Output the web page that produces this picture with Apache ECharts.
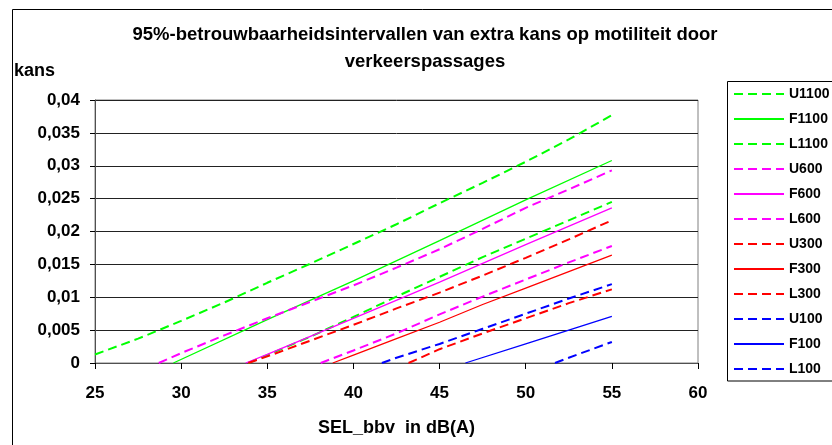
<!DOCTYPE html>
<html>
<head>
<meta charset="utf-8">
<script src="https://cdn.jsdelivr.net/npm/echarts/dist/echarts.min.js"></script>
<style>
  html, body { margin: 0; padding: 0; background: #fff; }
  #chart { width: 832px; height: 445px; }
</style>
</head>
<body>
<div id="chart"></div>
<script>
// 95% confidence intervals: U = upper bound, F = fitted, L = lower bound,
// per number of passages (1100, 600, 300, 100). Pairs are [SEL_bbv dB(A), kans].
const U1100 = [[25,0.0013],[27.5,0.0037],[30,0.0064],[32.5,0.0092],[35,0.0122],[37.5,0.0151],[40,0.0181],[42.5,0.0211],[45,0.0243],[47.5,0.0274],[50,0.0306],[52.5,0.0340],[55,0.0377]];
const F1100 = [[29.55,0],[35,0.0066],[40,0.0125],[45,0.0186],[50,0.0248],[55,0.0308]];
const L1100 = [[33.9,0],[35,0.0012],[37.5,0.0040],[40,0.0070],[42.5,0.0101],[45,0.0131],[47.5,0.0161],[50,0.0189],[52.5,0.0217],[55,0.0245]];
const U600  = [[28.7,0],[30,0.0015],[32.5,0.0042],[35,0.0068],[37.5,0.0093],[40,0.0118],[42.5,0.0145],[45,0.0173],[47.5,0.0204],[50,0.0236],[52.5,0.0264],[55,0.0293]];
const F600  = [[33.75,0],[35,0.0013],[40,0.0068],[45,0.0123],[50,0.0180],[55,0.0236]];
const L600  = [[38.1,0],[40,0.0019],[42.5,0.0045],[45,0.0074],[47.5,0.0101],[50,0.0127],[52.5,0.0153],[55,0.0178]];
const U300  = [[33.9,0],[35,0.0010],[37.5,0.0034],[40,0.0058],[42.5,0.0083],[45,0.0107],[47.5,0.0133],[50,0.0160],[52.5,0.0188],[55,0.0217]];
const F300  = [[38.8,0],[40,0.0012],[42.5,0.0037],[45,0.0062],[47.5,0.0089],[50,0.0114],[52.5,0.0139],[55,0.0164]];
const L300  = [[43.2,0],[45,0.0021],[47.5,0.0045],[50,0.0068],[52.5,0.0091],[55,0.0112]];
const U100  = [[41.65,0],[42.5,0.0008],[45,0.0029],[47.5,0.0052],[50,0.0075],[52.5,0.0098],[55,0.0120]];
const F100  = [[46.5,0],[50,0.0029],[55,0.0071]];
const L100  = [[51.7,0],[52.5,0.0008],[55,0.0032]];

const seriesNames = ['U1100','F1100','L1100','U600','F600','L600','U300','F300','L300','U100','F100','L100'];
const seriesData  = [U1100, F1100, L1100, U600, F600, L600, U300, F300, L300, U100, F100, L100];
const groupColors = { '1100': '#00FF00', '600': '#FF00FF', '300': '#FF0000', '100': '#0000FF' };

const titleLines = ['95%-betrouwbaarheidsintervallen van extra kans op motiliteit door', 'verkeerspassages'];
const yName = 'kans';
const xName = 'SEL_bbv  in dB(A)';

const FONT = 'Arial, "Liberation Sans", sans-serif';
const DASH = [9, 5];

function isDashed(name) { return name.charAt(0) !== 'F'; }
function colorOf(name) { return groupColors[name.slice(1)]; }

const series = seriesNames.map((name, i) => {
  const dashed = isDashed(name);
  const color = colorOf(name);
  return {
    name: name,
    type: 'line',
    data: seriesData[i],
    showSymbol: false,
    symbol: 'none',
    clip: true,
    silent: true,
    color: color,
    lineStyle: { color: color, width: dashed ? 2 : 1.3, type: dashed ? DASH : 'solid' },
    emphasis: { disabled: true }
  };
});

// Legend box: sample line + label per series, drawn as graphics
const legendBox = { x: 727.5, y: 81.5, first: 94, step: 25, lineX0: 734, lineX1: 784, textX: 789 };
const legendGraphics = [
  { type: 'rect', silent: true, z: 10, shape: { x: legendBox.x, y: legendBox.y, width: 200, height: 299.5 }, style: { fill: '#fff', stroke: '#000', lineWidth: 1 } }
];
seriesNames.forEach((name, i) => {
  const dashed = isDashed(name);
  const y = Math.round(legendBox.first + legendBox.step * i);
  const lineStyle = { stroke: colorOf(name), lineWidth: 2 };
  if (dashed) lineStyle.lineDash = DASH;
  legendGraphics.push({
    type: 'line', silent: true, z: 11,
    shape: { x1: legendBox.lineX0, y1: y, x2: legendBox.lineX1, y2: y },
    style: lineStyle
  });
  legendGraphics.push({
    type: 'text', silent: true, z: 11, x: legendBox.textX, y: y,
    style: { text: name, font: 'bold 14px ' + FONT, fill: '#000', textAlign: 'left', textVerticalAlign: 'middle' }
  });
});

const chart = echarts.init(document.getElementById('chart'), null, { renderer: 'canvas' });
chart.setOption({
  animation: false,
  backgroundColor: '#ffffff',
  grid: {
    left: 95, right: 134, top: 100, bottom: 82,
    containLabel: false,
    show: true,
    borderColor: '#808080',
    borderWidth: 1,
    backgroundColor: '#ffffff'
  },
  xAxis: {
    type: 'value',
    min: 25, max: 60, interval: 5,
    name: xName,
    nameLocation: 'middle',
    nameGap: 56,
    nameTextStyle: { fontFamily: FONT, fontSize: 18, fontWeight: 'bold', color: '#000' },
    axisLine: { show: true, onZero: false, lineStyle: { color: '#505050', width: 1 } },
    axisTick: { show: true, inside: false, length: 6, lineStyle: { color: '#000' } },
    axisLabel: { margin: 22, fontFamily: FONT, fontSize: 17, fontWeight: 'bold', color: '#000', showMaxLabel: true, showMinLabel: true },
    splitLine: { show: false }
  },
  yAxis: {
    type: 'value',
    min: 0, max: 0.04, interval: 0.005,
    axisLine: { show: true, lineStyle: { color: '#505050', width: 1 } },
    axisTick: { show: true, inside: false, length: 5, lineStyle: { color: '#000' } },
    axisLabel: {
      margin: 15, fontFamily: FONT, fontSize: 17, fontWeight: 'bold', color: '#000',
      formatter: v => v === 0 ? '0' : String(+v.toFixed(3)).replace('.', ',')
    },
    splitLine: { show: true, lineStyle: { color: '#222', width: 1 } }
  },
  graphic: [
    { type: 'rect', z: -10, silent: true, shape: { x: 12.5, y: 9.5, width: 900, height: 500 }, style: { fill: 'none', stroke: '#000', lineWidth: 1 } },
    { type: 'text', silent: true, x: 425, y: 35, style: { text: titleLines[0], font: 'bold 18.5px ' + FONT, fill: '#000', textAlign: 'center', textVerticalAlign: 'middle' } },
    { type: 'text', silent: true, x: 425, y: 62, style: { text: titleLines[1], font: 'bold 18.5px ' + FONT, fill: '#000', textAlign: 'center', textVerticalAlign: 'middle' } },
    { type: 'text', silent: true, x: 14, y: 71, style: { text: yName, font: 'bold 18px ' + FONT, fill: '#000', textAlign: 'left', textVerticalAlign: 'middle' } }
  ].concat(legendGraphics),
  series: series
});
</script>
</body>
</html>
